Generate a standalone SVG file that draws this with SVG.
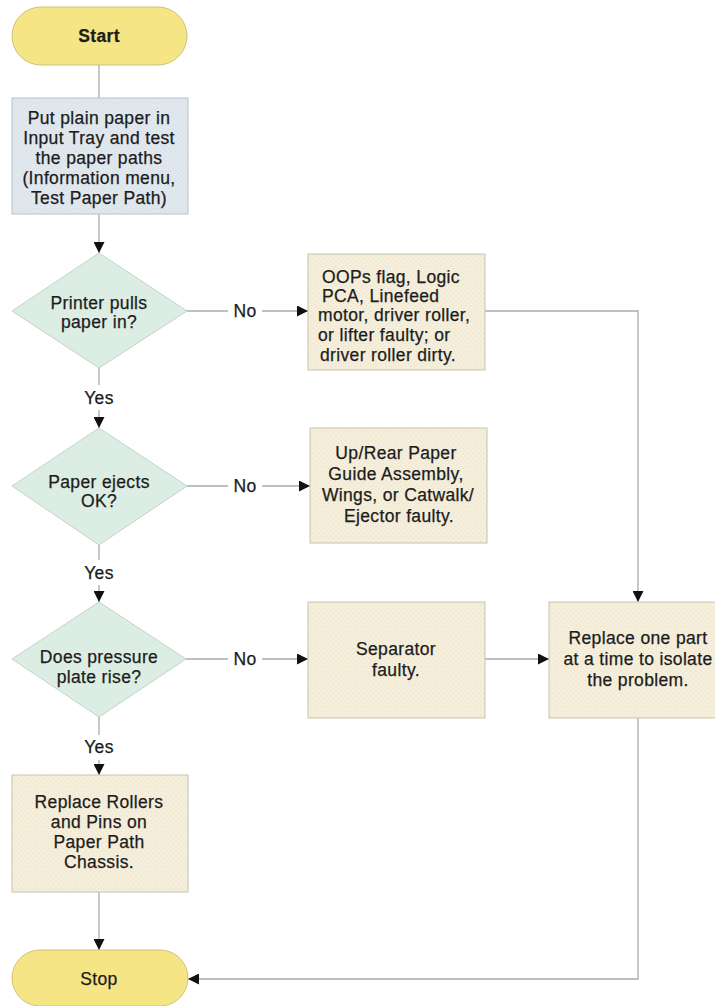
<svg xmlns="http://www.w3.org/2000/svg" width="715" height="1006" viewBox="0 0 715 1006">
<defs>
<pattern id="dotsBeige" width="5" height="5" patternUnits="userSpaceOnUse">
<rect width="5" height="5" fill="#f5eedb"/>
<circle cx="1" cy="1" r="0.6" fill="#e3d9be"/>
<circle cx="3.5" cy="3.5" r="0.6" fill="#e8dfc6"/>
</pattern>
<pattern id="dotsBlue" width="5" height="5" patternUnits="userSpaceOnUse">
<rect width="5" height="5" fill="#e0e8ee"/>
<circle cx="1" cy="1" r="0.6" fill="#ccd7df"/>
<circle cx="3.5" cy="3.5" r="0.6" fill="#d2dce4"/>
</pattern>
<marker id="arr" markerWidth="11" markerHeight="11" viewBox="0 0 10 10" refX="10" refY="5" orient="auto" markerUnits="userSpaceOnUse">
<path d="M0,0 L10,5 L0,10 Z" fill="#111"/>
</marker>
</defs>
<style>
text{font-family:"Liberation Sans",Arial,Helvetica,sans-serif;font-size:17.5px;fill:#1c1c1c;stroke:#1c1c1c;stroke-width:0.25px;letter-spacing:0.35px}
.c{text-anchor:middle}
.pill{fill:#f6e585;stroke:#cfc07a;stroke-width:1}
.box{fill:url(#dotsBeige);stroke:#c9c2ad;stroke-width:1}
.bbox{fill:url(#dotsBlue);stroke:#b8c2ca;stroke-width:1}
.dia{fill:#dcede4;stroke:#c3d3cb;stroke-width:1}
.ln{fill:none;stroke:#aaaaaa;stroke-width:1.3}
.a{marker-end:url(#arr)}
</style>
<rect width="715" height="1006" fill="#ffffff"/>

<g id="connectors">
<line class="ln" x1="99" y1="65" x2="99" y2="98"/>
<line class="ln a" x1="99" y1="214" x2="99" y2="253"/>
<line class="ln" x1="187" y1="311" x2="228" y2="311"/>
<line class="ln a" x1="262" y1="311" x2="308" y2="311"/>
<line class="ln" x1="99" y1="368" x2="99" y2="385"/>
<line class="ln a" x1="99" y1="410" x2="99" y2="428"/>
<line class="ln" x1="187" y1="486" x2="228" y2="486"/>
<line class="ln a" x1="262" y1="486" x2="310" y2="486"/>
<line class="ln" x1="99" y1="545" x2="99" y2="560"/>
<line class="ln a" x1="99" y1="585" x2="99" y2="602"/>
<line class="ln" x1="186" y1="659" x2="228" y2="659"/>
<line class="ln a" x1="262" y1="659" x2="308" y2="659"/>
<line class="ln" x1="99" y1="717" x2="99" y2="735"/>
<line class="ln a" x1="99" y1="760" x2="99" y2="775"/>
<line class="ln a" x1="99" y1="892" x2="99" y2="950"/>
<path class="ln a" d="M485,311 H638 V602"/>
<line class="ln a" x1="485" y1="659" x2="549" y2="659"/>
<path class="ln a" d="M638,718 V979 H188"/>
<text class="c" x="245" y="317">No</text>
<text class="c" x="245" y="492">No</text>
<text class="c" x="245" y="665">No</text>
<text class="c" x="99" y="404">Yes</text>
<text class="c" x="99" y="579">Yes</text>
<text class="c" x="99" y="753">Yes</text>
</g>

<g id="start">
<rect class="pill" x="12" y="7" width="175" height="58" rx="29"/>
<text class="c" x="99" y="42" font-weight="bold">Start</text>
</g>

<g id="test-paper">
<rect class="bbox" x="12" y="98" width="176" height="116"/>
<text class="c" x="99" y="124">Put plain paper in</text>
<text class="c" x="99" y="144">Input Tray and test</text>
<text class="c" x="99" y="164">the paper paths</text>
<text class="c" x="99" y="184">(Information menu,</text>
<text class="c" x="99" y="204">Test Paper Path)</text>
</g>

<g id="pulls-paper">
<polygon class="dia" points="99,253 187,311 99,368 12,311"/>
<text class="c" x="99" y="309">Printer pulls</text>
<text class="c" x="99" y="328">paper in?</text>
</g>

<g id="oops-flag">
<rect class="box" x="308" y="254" width="177" height="116"/>
<text x="322" y="283">OOPs flag, Logic</text>
<text x="322" y="302">PCA, Linefeed</text>
<text x="318" y="321">motor, driver roller,</text>
<text x="318" y="341">or lifter faulty; or</text>
<text x="320" y="361">driver roller dirty.</text>
</g>

<g id="paper-ejects">
<polygon class="dia" points="99,428 187,486 99,545 12,486"/>
<text class="c" x="99" y="488">Paper ejects</text>
<text class="c" x="99" y="507">OK?</text>
</g>

<g id="paper-guide">
<rect class="box" x="310" y="428" width="177" height="115"/>
<text class="c" x="396" y="459">Up/Rear Paper</text>
<text class="c" x="396" y="480">Guide Assembly,</text>
<text class="c" x="398" y="501">Wings, or Catwalk/</text>
<text class="c" x="399" y="522">Ejector faulty.</text>
</g>

<g id="pressure-plate">
<polygon class="dia" points="99,602 186,659 99,717 12,659"/>
<text class="c" x="99" y="663">Does pressure</text>
<text class="c" x="99" y="683">plate rise?</text>
</g>

<g id="separator">
<rect class="box" x="308" y="602" width="177" height="116"/>
<text class="c" x="396" y="655">Separator</text>
<text class="c" x="396" y="676">faulty.</text>
</g>

<g id="replace-one">
<rect class="box" x="549" y="602" width="178" height="116"/>
<text class="c" x="638" y="644">Replace one part</text>
<text class="c" x="638" y="665">at a time to isolate</text>
<text class="c" x="638" y="686">the problem.</text>
</g>

<g id="replace-rollers">
<rect class="box" x="12" y="775" width="176" height="117"/>
<text class="c" x="99" y="808">Replace Rollers</text>
<text class="c" x="99" y="828">and Pins on</text>
<text class="c" x="99" y="848">Paper Path</text>
<text class="c" x="99" y="868">Chassis.</text>
</g>

<g id="stop">
<rect class="pill" x="12" y="950" width="176" height="56" rx="28"/>
<text class="c" x="99" y="985">Stop</text>
</g>
</svg>
